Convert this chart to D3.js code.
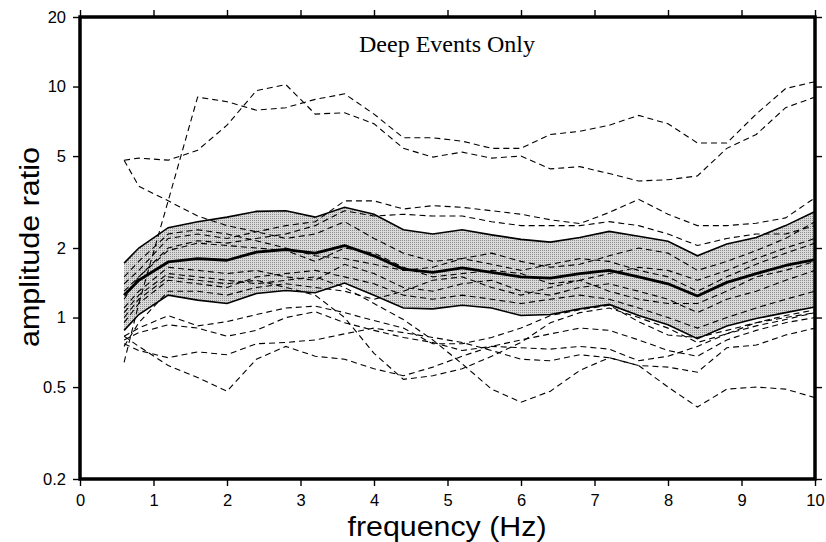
<!DOCTYPE html>
<html><head><meta charset="utf-8">
<script src="https://cdn.jsdelivr.net/npm/d3@7"></script>
<style>body{margin:0;background:#fff}svg{display:block}</style>
</head><body>
<script>
// ---- data ----
const freq = [0.6,0.8,1.2,1.6,2.0,2.4,2.8,3.2,3.6,4.0,4.4,4.8,5.2,5.6,6.0,6.4,6.8,7.2,7.6,8.0,8.4,8.8,9.2,9.6,10.0];
const meanRatio  = [1.25,1.45,1.74,1.80,1.77,1.92,1.97,1.90,2.05,1.85,1.62,1.57,1.64,1.57,1.50,1.48,1.55,1.60,1.50,1.40,1.24,1.42,1.55,1.68,1.78];
const upperBound = [1.72,2.00,2.45,2.60,2.72,2.88,2.90,2.72,3.00,2.80,2.40,2.30,2.40,2.28,2.18,2.12,2.22,2.36,2.25,2.14,1.85,2.08,2.22,2.50,2.88];
const lowerBound = [0.88,1.03,1.25,1.19,1.15,1.27,1.31,1.28,1.41,1.25,1.10,1.09,1.13,1.10,1.02,1.03,1.09,1.14,1.02,0.93,0.81,0.92,0.99,1.05,1.11];

const eventA = [4.8,4.9,4.8,5.3,6.8,9.6,10.2,7.6,7.7,6.9,5.4,4.95,5.2,4.9,5.0,4.4,4.5,4.2,3.9,3.95,4.1,5.4,6.2,8.1,9.0];
const eventB = [0.64,1.15,3.2,9.0,8.6,7.9,8.1,8.8,9.3,7.6,6.0,6.0,5.8,5.4,5.4,6.2,6.4,6.8,7.5,6.9,5.7,5.7,7.6,9.8,10.5];
const eventC = [4.8,3.7,3.2,2.75,2.5,2.35,2.2,2.3,2.6,2.2,1.9,1.75,1.8,1.7,1.6,1.7,1.8,1.75,1.6,1.5,1.3,1.5,1.7,1.9,2.1];
const eventD = [1.4,1.6,2.2,2.3,2.2,2.35,2.5,2.6,3.2,3.2,2.95,3.05,3.0,2.9,2.8,2.65,2.55,2.85,3.25,2.8,2.5,2.5,2.56,2.7,3.3];
const eventE = [1.3,1.5,2.0,2.15,2.1,2.2,2.3,2.5,2.9,2.75,2.8,2.75,2.75,2.6,2.5,2.5,2.5,2.6,2.5,2.3,2.05,2.2,2.3,2.3,2.5];
const eventF = [1.2,1.5,1.95,2.1,2.05,2.0,1.95,1.75,2.0,1.9,1.65,1.5,1.55,1.6,1.55,1.4,1.45,1.55,1.65,1.6,1.45,1.6,1.8,2.0,2.2];
const eventG = [1.1,1.3,1.65,1.6,1.55,1.6,1.5,1.45,1.7,1.55,1.35,1.3,1.4,1.45,1.3,1.25,1.35,1.4,1.3,1.2,1.05,1.2,1.3,1.45,1.6];
const eventH = [0.95,1.15,1.45,1.4,1.35,1.5,1.55,1.6,1.5,1.4,1.25,1.2,1.25,1.2,1.15,1.2,1.25,1.2,1.1,1.0,0.9,1.0,1.1,1.2,1.3];
const eventI = [1.5,1.75,2.3,2.4,2.3,2.15,2.0,1.85,1.8,1.7,1.6,1.65,1.8,1.9,1.75,1.65,1.7,1.85,2.0,1.9,1.6,1.75,1.95,2.2,2.6];
const eventJ = [0.75,0.95,1.3,1.3,1.25,1.35,1.4,1.35,1.3,1.2,1.3,1.45,1.5,1.35,1.25,1.35,1.45,1.3,1.2,1.15,1.15,1.3,1.5,1.6,1.75];
const eventK = [0.83,0.9,1.02,0.92,0.96,1.03,1.1,1.12,1.05,0.97,0.9,0.77,0.77,0.82,0.9,1.02,1.08,1.13,0.96,0.84,0.82,0.88,0.95,1.02,1.08];
const eventL = [0.8,0.86,0.93,0.9,0.83,0.88,1.0,1.06,0.95,0.88,0.82,0.78,0.72,0.75,0.74,0.73,0.75,0.73,0.65,0.68,0.75,0.85,0.92,0.98,1.05];
const eventM = [0.77,0.72,0.67,0.71,0.69,0.77,0.78,0.8,0.85,0.9,0.86,0.82,0.78,0.72,0.66,0.65,0.69,0.67,0.62,0.61,0.58,0.74,0.76,0.84,0.9];
const eventN = [0.83,0.75,0.62,0.55,0.48,0.66,0.75,0.68,0.66,0.6,0.56,0.61,0.68,0.75,0.8,0.85,0.9,0.88,0.8,0.72,0.68,0.8,0.88,0.95,1.0];
const eventO = [1.0,1.2,1.5,1.45,1.4,1.45,1.35,1.25,1.0,0.7,0.54,0.56,0.6,0.68,0.78,0.95,1.05,1.1,1.0,0.9,0.78,0.85,0.95,1.0,1.05];
const eventP = [1.05,1.25,1.55,1.5,1.45,1.4,1.45,1.5,1.35,1.15,0.98,0.8,0.63,0.49,0.43,0.48,0.59,0.67,0.62,0.5,0.41,0.49,0.5,0.49,0.45];

const xTicks = [0,1,2,3,4,5,6,7,8,9,10];
const yTicks = [0.2,0.5,1,2,5,10,20];
const titleText = "Deep Events Only";
const xLabel = "frequency (Hz)";
const yLabel = "amplitude ratio";

// ---- drawing ----
const W = 826, H = 542;
const svg = d3.select("body").append("svg").attr("width", W).attr("height", H);

const x = d3.scaleLinear().domain([0, 10]).range([80, 815]);
const y = d3.scaleLog().domain([0.2, 20]).range([479, 17]);

const defs = svg.append("defs");
const pat = defs.append("pattern").attr("id", "stip").attr("width", 2).attr("height", 2)
  .attr("patternUnits", "userSpaceOnUse");
pat.append("rect").attr("width", 2).attr("height", 2).attr("fill", "#dadada");
pat.append("rect").attr("width", 1).attr("height", 1).attr("fill", "#8e8e8e");

const band = d3.area()
  .x((d, i) => x(freq[i]))
  .y0((d, i) => y(lowerBound[i]))
  .y1(d => y(d));
svg.append("path").datum(upperBound).attr("d", band).attr("fill", "url(#stip)");

const line = d3.line().x((d, i) => x(freq[i])).y(d => y(d));

const events = [eventA, eventB, eventC, eventD, eventE, eventF, eventG, eventH,
                eventI, eventJ, eventK, eventL, eventM, eventN, eventO, eventP];
svg.append("g").selectAll("path").data(events).join("path")
  .attr("d", line).attr("fill", "none").attr("stroke", "#000")
  .attr("stroke-width", 1.1).attr("stroke-dasharray", "6,4");

[upperBound, lowerBound].forEach(s => {
  svg.append("path").datum(s).attr("d", line).attr("fill", "none")
    .attr("stroke", "#000").attr("stroke-width", 1.6);
});
svg.append("path").datum(meanRatio).attr("d", line).attr("fill", "none")
  .attr("stroke", "#000").attr("stroke-width", 2.8).attr("stroke-linejoin", "round");

// axes
const fmt = d => String(d);
const gL = svg.append("g").attr("transform", "translate(80,0)")
  .call(d3.axisLeft(y).tickValues(yTicks).tickFormat(fmt).tickSize(7).tickPadding(7));
const gB = svg.append("g").attr("transform", "translate(0,479)")
  .call(d3.axisBottom(x).tickValues(xTicks).tickFormat(fmt).tickSize(7).tickPadding(8));
const gT = svg.append("g").attr("transform", "translate(0,17)")
  .call(d3.axisTop(x).tickValues(xTicks).tickFormat("").tickSize(7));
const gR = svg.append("g").attr("transform", "translate(815,0)")
  .call(d3.axisRight(y).tickValues(yTicks).tickFormat("").tickSize(7));

[gL, gB, gT, gR].forEach(g => {
  g.select(".domain").remove();
  g.selectAll(".tick line").attr("stroke", "#000").attr("stroke-width", 1.4);
  g.selectAll("text").attr("fill", "#000")
    .style("font-family", "'Liberation Sans', Arial, Helvetica, sans-serif")
    .style("font-size", "16.5px");
});

// frame
svg.append("rect").attr("x", x(0)).attr("y", y(20))
  .attr("width", x(10) - x(0)).attr("height", y(0.2) - y(20))
  .attr("fill", "none").attr("stroke", "#000").attr("stroke-width", 3.5);

// titles
svg.append("text").attr("x", 447).attr("y", 52).attr("text-anchor", "middle")
  .style("font-family", "'Liberation Serif', 'Times New Roman', serif")
  .style("font-size", "24px").text(titleText);

svg.append("text").attr("x", 447).attr("y", 536).attr("text-anchor", "middle")
  .attr("textLength", 199).attr("lengthAdjust", "spacingAndGlyphs")
  .style("font-family", "'Liberation Sans', Arial, Helvetica, sans-serif")
  .style("font-size", "27px").text(xLabel);

svg.append("text").attr("transform", "translate(39,247) rotate(-90)")
  .attr("text-anchor", "middle")
  .attr("textLength", 200).attr("lengthAdjust", "spacingAndGlyphs")
  .style("font-family", "'Liberation Sans', Arial, Helvetica, sans-serif")
  .style("font-size", "27px").text(yLabel);
</script>
</body></html>
